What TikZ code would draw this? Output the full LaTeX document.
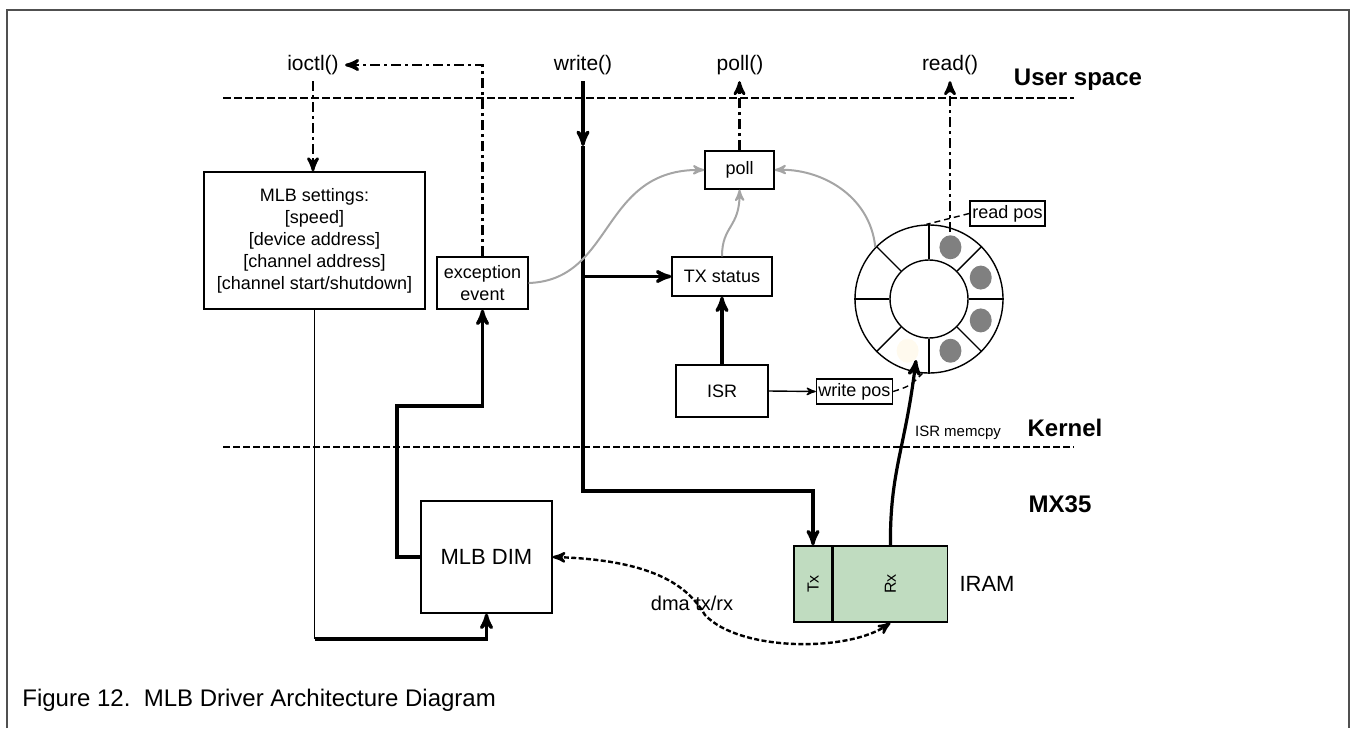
\documentclass[tikz,border=0pt]{standalone}
\usepackage{fontspec}
\setmainfont{Liberation Sans}
\usepackage{graphicx}
\usetikzlibrary{arrows,positioning}
\definecolor{iramgreen}{RGB}{192,220,192}
\definecolor{dotgray}{RGB}{128,128,128}
\definecolor{dotcream}{RGB}{255,250,238}
\definecolor{curvegray}{RGB}{165,165,165}
\definecolor{framegray}{RGB}{80,80,80}

\begin{document}
\begin{tikzpicture}[x=0.5pt,y=-0.5pt,>=stealth',
  box/.style={draw,line width=0.7pt,inner sep=1pt,align=center,font=\fontsize{9}{11}\selectfont},
  iram/.style={box,fill=iramgreen,minimum height=38pt,font=\fontsize{8}{10}\selectfont},
  call/.style={inner sep=3pt,font=\fontsize{10.5}{12}\selectfont},
  zone/.style={inner sep=0pt,font=\bfseries\fontsize{12}{14}\selectfont},
  thinline/.style={line width=0.7pt},
  thickline/.style={line width=1.6pt},
  dashdotline/.style={line width=1.4pt,dash pattern=on 5pt off 2pt on 1.5pt off 2pt},
  grayline/.style={draw=curvegray,line width=1pt},
  dmaline/.style={line width=1.2pt,dash pattern=on 2.5pt off 1.2pt}]
  \useasboundingbox (0,0) rectangle (1354,728);
  \draw[framegray,line width=1pt] (7,728) -- (7,10) -- (1349,10) -- (1349,728);

  % system calls and layers
  \node[call] (ioctl)  at (313,65) {ioctl()};
  \node[call] (writef) at (583,65) {write()};
  \node[call] (pollf)  at (740,65) {poll()};
  \node[call] (readf)  at (950,65) {read()};
  \node[zone] (user)   at (1078,80)  {User space};
  \node[zone] (kernel) at (1065,428) {Kernel};
  \node[zone] (mx)     at (1060,504) {MX35};
  \draw[line width=1.4pt,dash pattern=on 4pt off 1.5pt] (223,98) -- (1074,98);
  \draw[thinline,dash pattern=on 3.5pt off 1.5pt] (223,447) -- (1074,447);

  % boxes
  \node[box,minimum width=110.5pt,minimum height=68.5pt] (settings) at (314.5,240.5)
    {MLB settings:\\ {[speed]}\\ {[device address]}\\ {[channel address]}\\ {[channel start/shutdown]}};
  \node[box,minimum width=45.5pt,minimum height=26pt] (exc) at (482.5,283) {exception\\ event};
  \node[box,minimum width=34.5pt,minimum height=19pt] (poll) at (739.5,170) {poll};
  \node[box,minimum width=50pt,minimum height=19.5pt] (txs) at (722,276.5) {TX status};
  \node[box,minimum width=46pt,minimum height=26pt] (isr) at (722,391) {ISR};
  \node[box,minimum width=37.5pt,minimum height=12.5pt] (wpos) at (854.5,391.5) {write pos};
  \node[box,minimum width=37.5pt,minimum height=12.5pt] (rpos) at (1007.5,213.5) {read pos};
  \node[box,minimum width=65.5pt,minimum height=56pt,font=\fontsize{11}{13}\selectfont] (dim) at (486.5,557) {MLB DIM};
  \node[iram,minimum width=19pt] (tx) at (813,584) {\rotatebox{90}{Tx}};
  \node[iram,minimum width=57pt,right=0pt of tx] (rx) {\rotatebox{90}{Rx}};
  \node[inner sep=0pt,right=5.5pt of rx,font=\fontsize{11}{13}\selectfont] (iramlabel) {IRAM};

  % ring buffer
  \node[draw,circle,thinline,minimum size=74pt] (ring) at (929,299) {};
  \node[draw,circle,thinline,minimum size=39pt] (hub) at (929,299) {};
  \foreach \a in {0,45,...,315}
    \draw[thinline] (hub.\a) -- (ring.\a);
  \foreach \a in {67.5,22.5,-22.5,-67.5}
    \fill[dotgray] ([shift={(\a:28pt)}]ring.center) circle[x radius=5.5pt,y radius=6pt];
  \fill[dotcream] ([shift={(-112.5:28pt)}]ring.center) circle[x radius=5.5pt,y radius=6pt];

  \coordinate (wmid) at (583,146);
  \coordinate (wbend) at (583,491);
  \coordinate (sbend) at (314.5,639);
  \coordinate (ebend) at (397,406);
  \coordinate (rtop) at (950,232);
  \coordinate (slot) at (916,360);

  % user space calls
  \draw[dashdotline,->] (exc.north) |- (ioctl.east);
  \draw[dashdotline,->] (ioctl.south) -- (ioctl.south |- settings.north);
  \draw[dashdotline,->] (poll.north) -- (poll.north |- pollf.south);
  \draw[dashdotline,->] (rtop) -- (readf.south);
  \draw[thickline,->] (writef.south) -- (wmid);
  \draw[thickline,->] (wmid) -- (wbend) -| (tx.north);
  \draw[thickline,->] (txs.west -| wbend) -- (txs.west);

  % kernel side
  \draw[thickline,->] (isr.north) -- (txs.south);
  \draw[thinline,->] (isr.east) -- (wpos.west);
  \draw[thinline,densely dashed] (rpos.west) -- (ring.92);
  \draw[thinline,densely dashed] (wpos.east) .. controls (910,386) .. (ring.-95);
  \draw[grayline,->] (exc.east) .. controls (615,280) and (600,168) .. (poll.west);
  \draw[grayline,->] (txs.north) .. controls (722,225) and (740,228) .. (poll.south);
  \draw[grayline,->] (ring.136) .. controls (870,195) and (820,168) .. (poll.east);
  \draw[thickline,->] (rx.north) .. controls (890,470) and (905,450) .. (slot);
  \node[inner sep=0pt,font=\fontsize{7.5}{9}\selectfont] (memcpy) at (958,433) {ISR memcpy};

  % hardware side
  \draw[thickline,->] (dim.west) -| (ebend) -| (exc.south);
  \draw[thinline] (settings.south) -- (sbend);
  \draw[thickline,->] (sbend) -| (dim.south);
  \draw[dmaline,<->] (dim.east) .. controls (660,560) and (690,590) .. (705,615)
    .. controls (740,652) and (850,652) .. (rx.south);
  \node[inner sep=0pt,font=\fontsize{10}{12}\selectfont] (dma) at (692,603) {dma tx/rx};

  \node[anchor=west,inner sep=0pt,font=\fontsize{12}{14}\selectfont] (caption) at (22,700)
    {Figure 12.\ \ MLB Driver Architecture Diagram};
\end{tikzpicture}
\end{document}
